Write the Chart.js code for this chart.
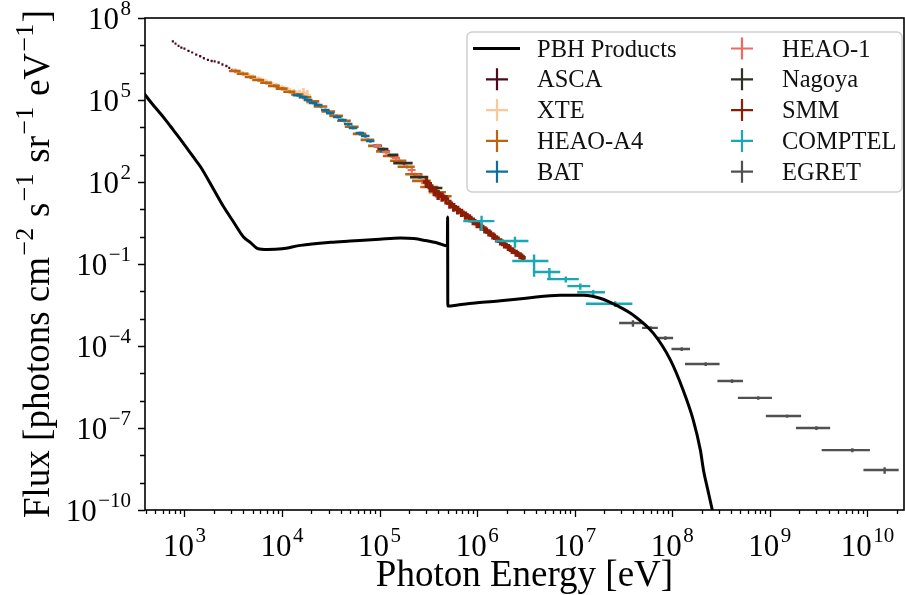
<!DOCTYPE html>
<html>
<head>
<meta charset="utf-8">
<script src="https://cdn.jsdelivr.net/npm/chart.js@4.4.0/dist/chart.umd.min.js"></script>
<style>
  html, body { margin: 0; padding: 0; background: #fff; }
  #wrap { width: 905px; height: 595px; }
</style>
</head>
<body>
<div id="wrap"><canvas id="fluxChart" width="905" height="595"></canvas></div>
<script>
// PBH spectrum (photon energy in eV, flux)
const pbhE = [355, 398, 500, 631, 770, 1000, 1260, 1460, 2000, 2510, 3160, 4030, 4790, 5600, 7080,
  1.0e4, 1.55e4, 3.16e4, 5.0e4, 1.0e5, 1.63e5, 2.24e5, 2.95e5, 3.98e5, 4.95e5, 4.98e5, 5.0e5,
  6.31e5, 1.0e6, 1.74e6, 3.16e6, 7.08e6, 1.23e7, 1.82e7, 2.82e7, 3.98e7, 6.38e7, 9.55e7,
  1.29e8, 1.64e8, 1.94e8, 2.09e8, 2.29e8, 2.57e8, 2.88e8];
const pbhF = [2.8e5, 1.5e5, 5.4e4, 2.0e4, 7.9e3, 2.3e3, 740, 360, 52, 12.6, 3.6, 0.98, 0.59, 0.37, 0.34,
  0.36, 0.48, 0.62, 0.69, 0.81, 0.89, 0.85, 0.72, 0.575, 0.457, 5.25, 2.9e-3,
  3.16e-3, 3.8e-3, 4.5e-3, 5.6e-3, 7.2e-3, 7.2e-3, 5.6e-3, 2.8e-3, 1.35e-3, 2.95e-4, 3.1e-5,
  2.45e-6, 1.95e-7, 1.55e-8, 2.8e-9, 6.3e-10, 1e-10, 1.6e-11];

// measurements: [E, dE, F, dF]
const asca = [
  [760, 20, 1.4e7, 1.4e6], [810, 20, 1.15e7, 1.1e6], [870, 20, 9.5e6, 9e5], [930, 25, 8.3e6, 8e5],
  [1000, 25, 7.6e6, 7e5], [1100, 30, 6.3e6, 6e5], [1200, 30, 5.5e6, 5e5], [1320, 35, 4.6e6, 4.5e5],
  [1450, 40, 4.0e6, 4e5], [1580, 40, 3.4e6, 3.4e5], [1740, 45, 2.95e6, 3e5], [1900, 50, 2.7e6, 2.7e5],
  [2040, 50, 2.6e6, 2.6e5], [2240, 60, 2.35e6, 2.4e5], [2450, 60, 2.0e6, 2e5], [2690, 70, 1.75e6, 1.8e5],
  [2880, 70, 1.5e6, 1.5e5], [3090, 80, 1.26e6, 1.3e5]
];
const xte = [
  [3310, 260, 1.2e6, 2.4e5], [3800, 300, 1.0e6, 2e5], [4370, 350, 8.5e5, 1.7e5], [5010, 400, 7.2e5, 1.4e5],
  [5750, 460, 6.0e5, 1.2e5], [6610, 530, 5.0e5, 1e5], [7590, 600, 4.2e5, 8.5e4], [8710, 700, 3.5e5, 7e4],
  [1.0e4, 800, 2.9e5, 6e4], [1.15e4, 920, 2.4e5, 5e4], [1.32e4, 1050, 2.05e5, 4.5e4], [1.51e4, 1200, 1.85e5, 5e4],
  [1.66e4, 1300, 1.85e5, 9e4], [1.82e4, 1450, 1.5e5, 8e4]
];
const heaoA4 = [
  [3310, 450, 1.15e6, 1.6e5], [3980, 550, 9.1e5, 1.3e5], [4790, 650, 6.9e5, 1e5], [5750, 800, 5.4e5, 7.5e4],
  [6920, 950, 4.3e5, 6e4], [8320, 1150, 3.3e5, 4.6e4], [1.0e4, 1400, 2.6e5, 3.6e4], [1.2e4, 1700, 2.0e5, 2.8e4],
  [1.45e4, 2100, 1.58e5, 2.2e4], [1.74e4, 2600, 1.26e5, 1.8e4], [2.09e4, 3200, 8.9e4, 1.2e4], [2.51e4, 4000, 5.75e4, 8e3],
  [3.02e4, 4800, 3.8e4, 5.3e3], [3.63e4, 5800, 2.63e4, 3.7e3], [4.37e4, 7000, 1.74e4, 2.4e3], [5.25e4, 8500, 1.05e4, 1.5e3],
  [6.31e4, 1.0e4, 5750, 800], [7.59e4, 1.2e4, 3470, 490], [9.12e4, 1.5e4, 2090, 290], [1.1e5, 1.8e4, 1320, 185],
  [1.32e5, 2.4e4, 890, 125], [1.58e5, 3.0e4, 600, 85], [1.91e5, 3.8e4, 363, 50], [2.29e5, 4.6e4, 191, 27],
  [2.75e5, 6.0e4, 110, 16], [3.31e5, 7.0e4, 66, 10], [3.98e5, 8.0e4, 42, 6], [4.57e5, 9.0e4, 30, 4.5]
];
const bat = [
  [1.44e4, 1.5e3, 1.51e5, 2e4], [1.66e4, 1.7e3, 1.29e5, 1.7e4], [1.86e4, 1.9e3, 1.0e5, 1.3e4], [2.09e4, 2.1e3, 7.8e4, 1e4],
  [2.36e4, 2.4e3, 6.6e4, 8.5e3], [2.79e4, 2.8e3, 4.3e4, 5.5e3], [3.13e4, 3.1e3, 3.3e4, 4.3e3], [3.7e4, 3.7e3, 2.4e4, 3.1e3],
  [4.17e4, 4.2e3, 1.86e4, 2.4e3], [4.79e4, 4.8e3, 1.32e4, 1.7e3], [5.37e4, 5.4e3, 9.5e3, 1.2e3], [6.31e4, 6.3e3, 6.2e3, 800],
  [7.16e4, 7.2e3, 4.8e3, 620], [8.05e4, 8.0e3, 3.16e3, 410], [9.5e4, 9.5e3, 2.09e3, 270], [1.12e5, 1.1e4, 1.35e3, 175]
];
const heao1 = [
  [9.5e4, 9e3, 2.1e3, 420], [1.17e5, 1.1e4, 1.26e3, 250], [1.48e5, 1.4e4, 760, 150], [1.78e5, 1.7e4, 490, 100],
  [2.14e5, 2.0e4, 275, 55], [2.51e5, 2.4e4, 166, 33], [2.95e5, 2.8e4, 91, 18], [3.47e5, 3.3e4, 60, 12]
];
const nagoya = [
  [1.09e5, 1.4e4, 1.62e3, 200], [1.38e5, 1.75e4, 980, 120], [1.78e5, 4.0e4, 490, 60],
  [2.6e5, 5.5e4, 151, 19], [3.75e5, 6.5e4, 60, 8]
];
const smm = [
  [3.02e5, 2.4e4, 100, 40], [3.31e5, 2.6e4, 71, 28], [3.63e5, 2.9e4, 50, 20], [3.98e5, 3.2e4, 37, 15],
  [4.37e5, 3.5e4, 30, 11], [4.79e5, 3.8e4, 24, 9], [5.25e5, 4.2e4, 16.6, 6], [5.75e5, 4.6e4, 12.6, 4.5],
  [6.31e5, 5.0e4, 10, 3.5], [6.92e5, 5.5e4, 7.9, 2.7], [7.59e5, 6.1e4, 6.3, 2.1], [8.32e5, 6.7e4, 5.0, 1.6],
  [9.12e5, 7.3e4, 3.8, 1.2], [1.0e6, 8e4, 2.95, 0.9], [1.1e6, 8.8e4, 2.34, 0.7], [1.2e6, 9.6e4, 1.86, 0.55],
  [1.32e6, 1.05e5, 1.45, 0.43], [1.45e6, 1.16e5, 1.12, 0.33], [1.58e6, 1.26e5, 0.87, 0.26], [1.74e6, 1.4e5, 0.68, 0.2],
  [1.91e6, 1.53e5, 0.52, 0.15], [2.09e6, 1.67e5, 0.42, 0.12], [2.29e6, 1.83e5, 0.32, 0.09], [2.51e6, 2.0e5, 0.26, 0.075],
  [2.75e6, 2.2e5, 0.21, 0.06], [2.95e6, 2.0e5, 0.17, 0.05]
];
const comptel = [
  [1.11e6, 3.9e5, 3.7, 2.1], [2.44e6, 9.1e5, 0.69, 0.3], [3.83e6, 1.54e6, 0.129, 0.095], [5.5e6, 1.6e6, 0.051, 0.02],
  [8.1e6, 2.9e6, 0.028, 0.007], [1.14e7, 3.0e6, 0.0155, 0.004], [1.55e7, 4.9e6, 0.0093, 0.002], [2.6e7, 1.3e7, 0.0035, 0.0008]
];
const egret = [
  [3.95e7, 1.1e7, 6.9e-4, 1.8e-4], [6.0e7, 1.1e7, 4.6e-4, 7e-5], [8.5e7, 1.7e7, 1.95e-4, 3e-5],
  [1.25e8, 2.7e7, 7.8e-5, 1.2e-5], [2.2e8, 8.5e7, 2.2e-5, 3.3e-6], [4.1e8, 1.2e8, 5.25e-6, 8e-7],
  [7.6e8, 2.9e8, 1.26e-6, 1.9e-7], [1.5e9, 5.9e8, 2.75e-7, 4e-8], [3.0e9, 1.15e9, 1.0e-7, 1.5e-8],
  [7.0e9, 3.6e9, 1.55e-8, 2.6e-9], [1.5e10, 5.9e9, 2.9e-9, 8e-10]
];

const xTickExps = [3, 4, 5, 6, 7, 8, 9, 10];
const yTickExps = [8, 5, 2, -1, -4, -7, -10];

const SERIF = '"Liberation Serif", "Times New Roman", serif';

// turn [E, dE, F, dF] rows into horizontal + vertical bar segments
function errorSegments(rows) {
  const pts = [];
  rows.forEach(([e, de, f, df]) => {
    pts.push({ x: e - de, y: f }, { x: e + de, y: f }, { x: e, y: null });
    pts.push({ x: e, y: f - df }, { x: e, y: f + df }, { x: e, y: null });
  });
  return pts;
}

const series = [
  ['ASCA', asca, '#4e0a1c', 1.8],
  ['XTE', xte, '#fdc796', 2.6],
  ['HEAO-A4', heaoA4, '#bf620e', 2.6],
  ['BAT', bat, '#0b6f99', 2.6],
  ['HEAO-1', heao1, '#f2685c', 2.2],
  ['Nagoya', nagoya, '#2f3022', 2.6],
  ['SMM', smm, '#8b1c06', 3.4],
  ['COMPTEL', comptel, '#17a8b3', 2.4],
  ['EGRET', egret, '#505050', 2.4]
];

const datasets = [{
  label: 'PBH Products',
  data: pbhE.map((e, i) => ({ x: e, y: pbhF[i] })),
  borderColor: '#000',
  borderWidth: 3,
  pointRadius: 0,
  showLine: true,
  cubicInterpolationMode: 'monotone',
  order: 0
}];
series.forEach(([label, rows, color, w], i) => {
  datasets.push({
    label,
    data: errorSegments(rows),
    borderColor: color,
    borderWidth: w,
    pointRadius: 0,
    showLine: true,
    spanGaps: false,
    tension: 0,
    order: series.length - i
  });
});

function drawPower(ctx, exp, x, baseY, align) {
  const sup = String(exp).replace('-', '\u2212');
  ctx.font = '31px ' + SERIF;
  const wb = ctx.measureText('10').width;
  ctx.font = '21px ' + SERIF;
  const ws = ctx.measureText(sup).width;
  const total = wb + 1.5 + ws;
  const x0 = align === 'center' ? x - total / 2 : x - total;
  ctx.font = '31px ' + SERIF;
  ctx.fillText('10', x0, baseY);
  ctx.font = '21px ' + SERIF;
  ctx.fillText(sup, x0 + wb + 1.5, baseY - 14);
}

const axesDecor = {
  id: 'axesDecor',
  afterDraw(chart) {
    const { ctx, chartArea: a, scales: { x, y } } = chart;
    ctx.save();
    ctx.fillStyle = '#000';
    ctx.strokeStyle = '#000';
    ctx.textAlign = 'left';
    ctx.textBaseline = 'alphabetic';

    // x ticks
    ctx.lineWidth = 1.3;
    ctx.beginPath();
    for (let d = 2; d <= 10; d++) {
      for (let m = 1; m <= 9; m++) {
        const v = m * Math.pow(10, d);
        if (v < x.min || v > x.max) continue;
        const px = Math.round(x.getPixelForValue(v)) + 0.5;
        ctx.moveTo(px, a.bottom);
        ctx.lineTo(px, a.bottom + (m === 1 ? 7 : 4));
      }
    }
    // y ticks
    for (let d = -10; d <= 8; d++) {
      const py = Math.round(y.getPixelForValue(Math.pow(10, d))) + 0.5;
      ctx.moveTo(a.left, py);
      ctx.lineTo(a.left - (yTickExps.includes(d) ? 7 : 5), py);
    }
    ctx.stroke();

    xTickExps.forEach(e => drawPower(ctx, e, x.getPixelForValue(Math.pow(10, e)), 556, 'center'));
    yTickExps.forEach(e => drawPower(ctx, e, 131, y.getPixelForValue(Math.pow(10, e)) + 11, 'right'));

    // frame
    ctx.lineWidth = 1.6;
    ctx.strokeRect(a.left, a.top, a.right - a.left, a.bottom - a.top);

    // x title
    ctx.font = '37px ' + SERIF;
    ctx.textAlign = 'center';
    ctx.fillText('Photon Energy [eV]', (a.left + a.right) / 2, 586);

    // y title with superscripts
    const runs = [['Flux [photons cm', 0], ['\u22122', 1], [' s', 0], ['\u22121', 1], [' sr', 0],
      ['\u22121', 1], [' eV', 0], ['\u22121', 1], [']', 0]];
    const fBase = '37px ' + SERIF, fSup = '26px ' + SERIF;
    let total = 0;
    runs.forEach(([t, s]) => { ctx.font = s ? fSup : fBase; total += ctx.measureText(t).width + (s ? 3 : 0); });
    ctx.translate(49, (a.top + a.bottom) / 2);
    ctx.rotate(-Math.PI / 2);
    ctx.textAlign = 'left';
    let cx = -total / 2;
    runs.forEach(([t, s]) => {
      ctx.font = s ? fSup : fBase;
      ctx.fillText(t, cx + (s ? 1.5 : 0), s ? -16 : 0);
      cx += ctx.measureText(t).width + (s ? 3 : 0);
    });
    ctx.restore();

    // legend, two columns
    ctx.save();
    ctx.beginPath();
    ctx.roundRect(467, 32, 435, 160, 5);
    ctx.fillStyle = 'rgba(255,255,255,0.85)';
    ctx.fill();
    ctx.strokeStyle = '#cfcfcf';
    ctx.lineWidth = 1.5;
    ctx.stroke();
    ctx.font = '24.5px ' + SERIF;
    ctx.textBaseline = 'alphabetic';
    chart.data.datasets.forEach((ds, i) => {
      const col = i < 5 ? 0 : 1;
      const row = i % 5;
      const cy = 48.5 + row * 30.8;
      const mx = col ? 742 : 497;
      const tx = col ? 782 : 537;
      ctx.strokeStyle = ds.borderColor;
      ctx.beginPath();
      if (i === 0) {
        ctx.lineWidth = 3;
        ctx.moveTo(473, cy);
        ctx.lineTo(520, cy);
      } else {
        ctx.lineWidth = 2.2;
        ctx.moveTo(mx - 11, cy);
        ctx.lineTo(mx + 11, cy);
        ctx.moveTo(mx, cy - 11);
        ctx.lineTo(mx, cy + 11);
      }
      ctx.stroke();
      ctx.fillStyle = '#111';
      ctx.fillText(ds.label, tx, cy + 8);
    });
    ctx.restore();
  }
};

new Chart(document.getElementById('fluxChart'), {
  type: 'scatter',
  data: { datasets },
  options: {
    responsive: false,
    animation: false,
    devicePixelRatio: 1,
    layout: { padding: { left: 145, right: 1, top: 18, bottom: 85 } },
    scales: {
      x: { type: 'logarithmic', min: 394, max: 2.37e10, display: false },
      y: { type: 'logarithmic', min: 1e-10, max: 1e8, display: false }
    },
    plugins: { legend: { display: false }, tooltip: { enabled: false } }
  },
  plugins: [axesDecor]
});
</script>
</body>
</html>
